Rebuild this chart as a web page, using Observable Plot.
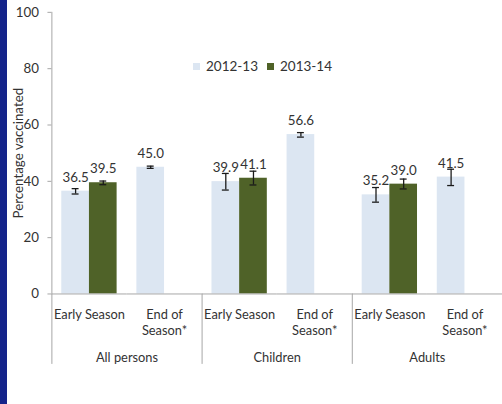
<!DOCTYPE html>
<html>
<head>
<meta charset="utf-8">
<script src="https://cdn.jsdelivr.net/npm/d3@7"></script>
<script src="https://cdn.jsdelivr.net/npm/@observablehq/plot@0.6"></script>
<style>
  html, body { margin: 0; padding: 0; background: #fff; overflow: hidden; }
  #wrap { position: relative; width: 502px; height: 404px; overflow: hidden; background: #fff; }
  #strip { position: absolute; left: 0; top: 0; width: 7px; height: 404px; background: #14248a; }
  #chart { position: absolute; left: 0; top: 0; }
  #legend { position: absolute; top: 58px; left: 193px; font: 13.5px Lato, sans-serif; color: #333;
            display: flex; align-items: center; white-space: nowrap; }
  #legend .sw { display: inline-block; width: 7px; height: 7px; margin-right: 6px; }
  #legend .item { display: flex; align-items: center; margin-right: 9px; }
</style>
</head>
<body>
<div id="wrap">
  <div id="chart"></div>
  <div id="strip"></div>
  <div id="legend"></div>
</div>
<script>
// ---- data ----
const groups = ["All persons", "Children", "Adults"];
const periods = ["Early Season", "End of Season*"];
const seasons = ["2012-13", "2013-14"];
const seasonColors = ["#dce6f2", "#4f6228"];
// values in order: All persons (Early, End), Children (Early, End), Adults (Early, End)
const values2012 = [36.5, 45.0, 39.9, 56.6, 35.2, 41.5];
const lower2012  = [35.5, 44.6, 36.9, 55.7, 32.6, 38.5];
const upper2012  = [37.4, 45.4, 42.8, 57.3, 37.8, 44.3];
const values2013 = [39.5, null, 41.1, null, 39.0, null];
const lower2013  = [38.8, null, 38.7, null, 37.3, null];
const upper2013  = [40.1, null, 43.6, null, 40.8, null];
const yTicks = [0, 20, 40, 60, 80, 100];
const yTitle = "Percentage vaccinated";

// ---- build table ----
const keys = groups.flatMap(g => periods.map(p => g + "|" + p));
const rows = [];
keys.forEach((k, i) => {
  if (values2012[i] != null) rows.push({key: k, season: seasons[0], value: values2012[i], lo: lower2012[i], hi: upper2012[i]});
  if (values2013[i] != null) rows.push({key: k, season: seasons[1], value: values2013[i], lo: lower2013[i], hi: upper2013[i]});
});
const groupRows = groups.map(g => ({key: g + "|" + periods[0], label: g}));
const periodLabel = k => {
  const p = String(k).split("|")[1];
  return p === "End of Season*" ? "End of\nSeason*" : p;
};

const axisGray = "#a6a6a6";
const textCol = "#333333";
const facetW = (508 - 52) / keys.length;

const chart = Plot.plot({
  width: 508,
  height: 404,
  marginLeft: 52,
  marginRight: 0,
  marginTop: 12,
  marginBottom: 107,
  style: {fontFamily: "Lato, sans-serif", fontSize: "13px", color: textCol, background: "transparent", overflow: "visible"},
  fx: {domain: keys, padding: 0, axis: null, label: null},
  x: {domain: seasons, paddingInner: 0, paddingOuter: 0.357, axis: null, label: null},
  y: {domain: [0, 100], axis: null, label: null},
  color: {domain: seasons, range: seasonColors},
  marks: [
    Plot.barY(rows, {fx: "key", x: "season", y: "value", fill: "season"}),
    Plot.ruleX(rows, {fx: "key", x: "season", y1: "lo", y2: "hi", stroke: "#1a1a1a", strokeWidth: 1.3}),
    Plot.tickY(rows, {fx: "key", x: "season", y: "lo", stroke: "#1a1a1a", strokeWidth: 1.3, insetLeft: 10.5, insetRight: 10.5}),
    Plot.tickY(rows, {fx: "key", x: "season", y: "hi", stroke: "#1a1a1a", strokeWidth: 1.3, insetLeft: 10.5, insetRight: 10.5}),
    Plot.text(rows, {fx: "key", x: "season", y: "value", text: d => d.value.toFixed(1), dy: -14, fill: textCol, fontSize: 13.5}),
    // x baseline
    Plot.ruleY([0], {stroke: axisGray, strokeWidth: 1}),
    // y axis line (first facet) and group separators below the axis
    Plot.ruleX([keys[0]], {fx: d => d, x: null, y1: 0, y2: 100, dx: -facetW / 2, stroke: axisGray, strokeWidth: 1}),
    Plot.ruleX(groupRows, {fx: "key", x: null, y1: -25, y2: 0, dx: -facetW / 2, stroke: axisGray, strokeWidth: 1}),
    Plot.axisY({ticks: yTicks, tickSize: 4, tickPadding: 9, stroke: axisGray, fill: textCol, fontSize: 13.5, label: null}),
    Plot.axisFx({anchor: "bottom", tickSize: 0, tickPadding: 13, tickFormat: periodLabel, fill: textCol, fontSize: 13, label: null, lineHeight: 1.3}),
    Plot.text(groupRows, {fx: "key", text: "label", frameAnchor: "bottom-right", textAnchor: "middle", dy: 69, fill: textCol, fontSize: 13}),
    Plot.text([yTitle], {fx: () => keys[0], text: d => d, frameAnchor: "left", textAnchor: "middle", rotate: -90, dx: -34, fill: textCol, fontSize: 13.5})
  ]
});
document.getElementById("chart").appendChild(chart);

// legend
const legend = document.getElementById("legend");
seasons.forEach((s, i) => {
  const item = document.createElement("span");
  item.className = "item";
  const sw = document.createElement("span");
  sw.className = "sw";
  sw.style.background = seasonColors[i];
  item.appendChild(sw);
  item.appendChild(document.createTextNode(s));
  legend.appendChild(item);
});
</script>
</body>
</html>
